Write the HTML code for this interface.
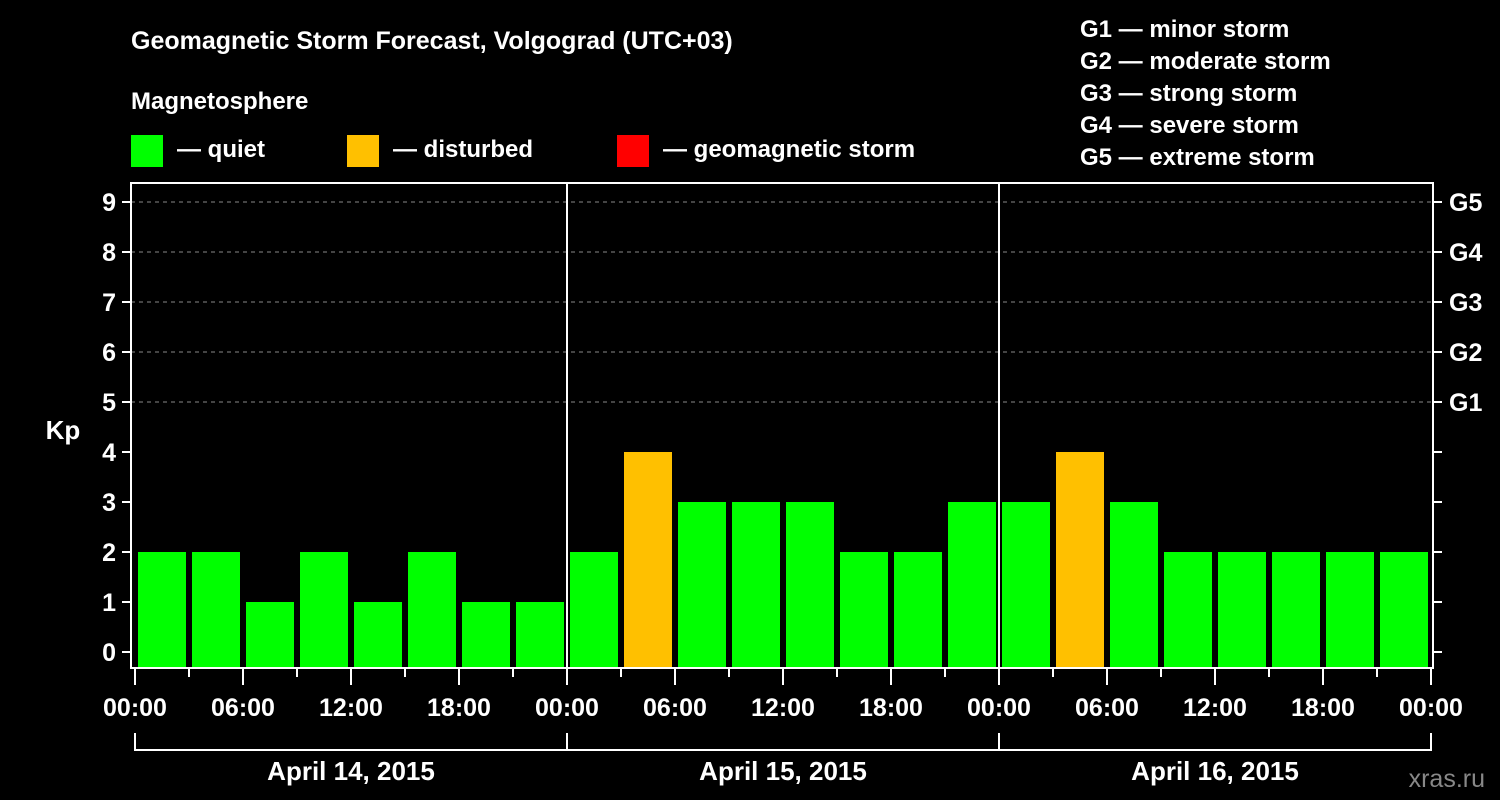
<!DOCTYPE html>
<html><head><meta charset="utf-8"><style>
html,body{margin:0;padding:0;background:#000;}
svg{display:block;font-family:"Liberation Sans",Arial,sans-serif;font-weight:bold;}
</style></head><body>
<svg id="chart" width="1500" height="800" viewBox="0 0 1500 800">
<rect width="1500" height="800" fill="#000"/>
<text x="131" y="49" fill="#fff" font-size="25">Geomagnetic Storm Forecast, Volgograd (UTC+03)</text>
<text x="131" y="109" fill="#fff" font-size="24">Magnetosphere</text>
<g><rect x="131" y="135" width="32" height="32" fill="#00ff00"/><text x="177" y="157" fill="#fff" font-size="24">— quiet</text></g>
<g><rect x="347" y="135" width="32" height="32" fill="#ffc000"/><text x="393" y="157" fill="#fff" font-size="24">— disturbed</text></g>
<g><rect x="617" y="135" width="32" height="32" fill="#ff0000"/><text x="663" y="157" fill="#fff" font-size="24">— geomagnetic storm</text></g>
<g fill="#fff" font-size="24">
<text x="1080" y="37">G1 — minor storm</text>
<text x="1080" y="69">G2 — moderate storm</text>
<text x="1080" y="101">G3 — strong storm</text>
<text x="1080" y="133">G4 — severe storm</text>
<text x="1080" y="165">G5 — extreme storm</text>
</g>
<text x="63" y="439" fill="#fff" font-size="26" text-anchor="middle">Kp</text>
<text x="1485" y="787" fill="#888" font-size="25" text-anchor="end" font-weight="normal">xras.ru</text>
<g id="grid"></g><g id="bars"></g><g id="axes"></g>
</svg>
<script>
const kpValues=[2,2,1,2,1,2,1,1, 2,4,3,3,3,2,2,3, 3,4,3,2,2,2,2,2];
const yTicks=[0,1,2,3,4,5,6,7,8,9];
const gLabels=["G1","G2","G3","G4","G5"];
const timeLabels=["00:00","06:00","12:00","18:00","00:00","06:00","12:00","18:00","00:00","06:00","12:00","18:00","00:00"];
const dayLabels=["April 14, 2015","April 15, 2015","April 16, 2015"];
const NS="http://www.w3.org/2000/svg";
const X0=135,STEP=54,Y0=652,UNIT=50,PL=131,PR=1433,PT=183,PB=668;
const xs=i=>X0+i*STEP, ys=v=>Y0-v*UNIT;
function mk(tag,attrs,parent,text){const e=document.createElementNS(NS,tag);for(const k in attrs)e.setAttribute(k,attrs[k]);if(text!==undefined)e.textContent=text;parent.appendChild(e);return e;}
const grid=document.getElementById('grid'),bars=document.getElementById('bars'),axes=document.getElementById('axes');
for(let v=5;v<=9;v++){const l=mk('line',{x1:PL,x2:PR,y1:ys(v),y2:ys(v),stroke:'#888','stroke-dasharray':'4,4','stroke-width':1},grid);

}
kpValues.forEach((v,i)=>{const c=v>=5?'#ff0000':(v>=4?'#ffc000':'#00ff00');
const r=mk('rect',{x:xs(i)+3,y:ys(v),width:48,height:PB-ys(v),fill:c},bars);

});
const box=mk('rect',{x:PL,y:PT,width:PR-PL,height:PB-PT,fill:'none',stroke:'#fff','stroke-width':2},axes);


[1,2].forEach(d=>{const l=mk('line',{x1:xs(d*8),x2:xs(d*8),y1:PT,y2:PB,stroke:'#fff','stroke-width':2},axes);

});
yTicks.forEach(v=>{mk('line',{x1:122,x2:PL,y1:ys(v),y2:ys(v),stroke:'#fff','stroke-width':2},axes);
mk('line',{x1:PR,x2:1442,y1:ys(v),y2:ys(v),stroke:'#fff','stroke-width':2},axes);
const t=mk('text',{x:116,y:ys(v)+9,fill:'#fff','font-size':25,'text-anchor':'end'},axes,String(v));

});
gLabels.forEach((g,i)=>{const t=mk('text',{x:1449,y:ys(5+i)+9,fill:'#fff','font-size':25},axes,g);

});
for(let i=0;i<=24;i++){const major=i%2===0;mk('line',{x1:xs(i),x2:xs(i),y1:PB,y2:major?685:677,stroke:'#fff','stroke-width':2},axes);}
timeLabels.forEach((s,i)=>{const t=mk('text',{x:xs(i*2),y:716,fill:'#fff','font-size':25,'text-anchor':'middle'},axes,s);

});
mk('line',{x1:xs(0),x2:xs(24),y1:750,y2:750,stroke:'#fff','stroke-width':2},axes);
for(let d=0;d<=3;d++)mk('line',{x1:xs(d*8),x2:xs(d*8),y1:733,y2:751,stroke:'#fff','stroke-width':2},axes);
dayLabels.forEach((s,d)=>{const t=mk('text',{x:xs(d*8+4),y:780,fill:'#fff','font-size':26,'text-anchor':'middle'},axes,s);

});
</script>
</body></html>
